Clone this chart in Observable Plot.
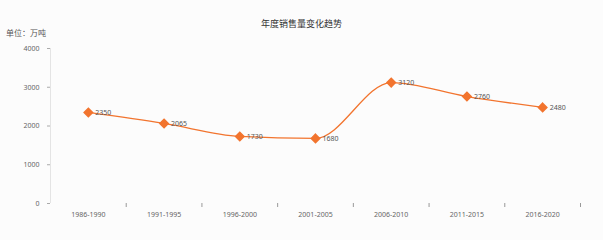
<!DOCTYPE html>
<html><head><meta charset="utf-8">
<script src="https://cdn.jsdelivr.net/npm/d3@7"></script>
<script src="https://cdn.jsdelivr.net/npm/@observablehq/plot@0.6"></script>
<style>
body{margin:0;background:#fff;font-family:"Noto Sans CJK SC","Noto Sans",sans-serif;}
#wrap{position:relative;width:603px;height:240px;background:#fcfcfc;overflow:hidden;}
#title{position:absolute;top:17px;left:0;width:603px;text-align:center;font-size:9px;color:#333;}
#unit{position:absolute;top:27px;left:6px;font-size:8px;color:#555;}
#wrap svg{position:absolute;left:0;top:0;}
</style></head>
<body><div id="wrap"><div id="title">年度销售量变化趋势</div><div id="unit">单位：万吨</div></div>
<script>
const categories = ["1986-1990","1991-1995","1996-2000","2001-2005","2006-2010","2011-2015","2016-2020"];
const values = [2350, 2065, 1730, 1680, 3120, 2760, 2480];
const yTicks = [0, 1000, 2000, 3000, 4000];

const data = categories.map((c, i) => ({c, i: i + 0.5, v: values[i]}));
const color = "#f2742e";

const chart = Plot.plot({
  width: 603, height: 240,
  marginLeft: 50, marginRight: 23, marginTop: 48, marginBottom: 37,
  style: {background: "transparent", fontSize: "7px", color: "#666", fontFamily: "'Noto Sans', sans-serif"},
  x: {domain: [0, categories.length], axis: null},
  y: {domain: [0, 4000], axis: null},
  marks: [
    Plot.ruleX([0], {stroke: "#e4e4e4"}),
    Plot.axisY({ticks: yTicks, tickSize: 3, tickPadding: 8, tickFormat: d => String(d), anchor: "left", label: null, stroke: "#aaa", fill: "#666"}),
    Plot.axisX({ticks: d3.range(1, categories.length + 1), tickFormat: () => "", tickSize: 4, label: null, stroke: "#999"}),
    Plot.text(data, {x: "i", y: 0, text: "c", dy: 11, fill: "#666", fontSize: 7}),
    Plot.line(data, {x: "i", y: "v", stroke: color, strokeWidth: 1.3, curve: "monotone-x"}),
    Plot.dot(data, {x: "i", y: "v", symbol: "diamond2", r: 3.8, fill: color, stroke: color}),
    Plot.text(data, {x: "i", y: "v", text: d => String(d.v), textAnchor: "start", dx: 7, fill: "#555", fontSize: 7})
  ]
});
document.getElementById("wrap").prepend(chart);
</script>
</body></html>
